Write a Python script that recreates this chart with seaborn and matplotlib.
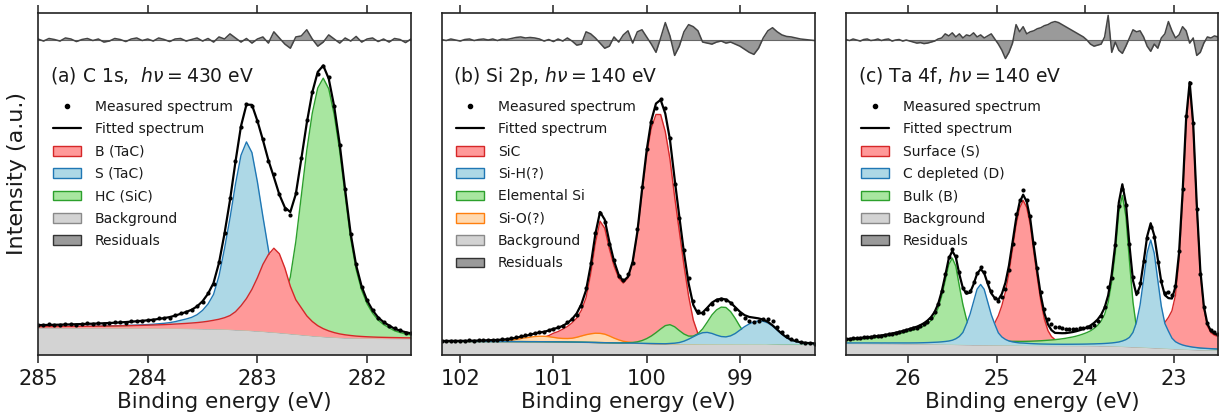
import numpy as np
import matplotlib
matplotlib.use("Agg")
import matplotlib.pyplot as plt
import seaborn as sns
from matplotlib.lines import Line2D
from matplotlib.patches import Patch

# ---------------------------------------------------------------- data
# (a) C 1s, sampled every 0.05 eV from 285.00 down to 281.60 eV (69 points)
E_C1S = np.linspace(285.0, 281.6, 69)
BG_C1S = [8.0, 8.0, 7.99, 7.99, 7.98, 7.98, 7.97, 7.97, 7.96, 7.96,
          7.95, 7.95, 7.94, 7.94, 7.93, 7.93, 7.92, 7.92, 7.91, 7.9,
          7.9, 7.89, 7.88, 7.87, 7.86, 7.85, 7.84, 7.82, 7.8, 7.78,
          7.75, 7.72, 7.7, 7.66, 7.6, 7.53, 7.45, 7.38, 7.3, 7.2,
          7.1, 6.98, 6.85, 6.72, 6.6, 6.45, 6.3, 6.15, 6.0, 5.85,
          5.7, 5.57, 5.45, 5.35, 5.25, 5.17, 5.1, 5.05, 5.0, 4.97,
          4.95, 4.93, 4.91, 4.9, 4.89, 4.88, 4.87, 4.86, 4.85]
B_TAC = [0.3, 0.3, 0.32, 0.33, 0.35, 0.36, 0.38, 0.4, 0.42, 0.44,
         0.46, 0.48, 0.5, 0.53, 0.56, 0.6, 0.64, 0.68, 0.72, 0.77,
         0.82, 0.88, 0.95, 1.02, 1.1, 1.2, 1.3, 1.42, 1.55, 1.7,
         1.9, 2.15, 2.45, 2.8, 3.3, 4.0, 5.2, 7.0, 9.2, 12.0,
         15.5, 19.5, 22.5, 24.5, 23.0, 19.0, 13.8, 10.0, 7.8, 5.6,
         4.1, 3.0, 2.25, 1.7, 1.3, 1.0, 0.8, 0.65, 0.53, 0.45,
         0.38, 0.33, 0.29, 0.26, 0.23, 0.21, 0.19, 0.17, 0.16]
S_TAC = [0.25, 0.27, 0.28, 0.3, 0.32, 0.34, 0.36, 0.38, 0.41, 0.44,
         0.47, 0.5, 0.54, 0.58, 0.62, 0.67, 0.72, 0.78, 0.85, 0.92,
         1.0, 1.1, 1.25, 1.4, 1.6, 1.9, 2.3, 2.7, 3.2, 4.0,
         5.3, 7.2, 10.0, 15.5, 23.5, 32.5, 42.5, 51.0, 55.0, 52.0,
         43.5, 33.5, 24.0, 16.0, 10.5, 7.2, 5.2, 3.9, 3.0, 2.4,
         2.0, 1.7, 1.45, 1.25, 1.1, 0.97, 0.87, 0.78, 0.7, 0.64,
         0.58, 0.53, 0.49, 0.45, 0.42, 0.39, 0.36, 0.34, 0.32]
HC_SIC = [0.2, 0.2, 0.2, 0.21, 0.22, 0.23, 0.24, 0.25, 0.26, 0.27,
          0.28, 0.29, 0.3, 0.31, 0.32, 0.34, 0.35, 0.37, 0.39, 0.41,
          0.43, 0.45, 0.47, 0.5, 0.53, 0.56, 0.6, 0.64, 0.68, 0.73,
          0.78, 0.85, 0.92, 1.0, 1.1, 1.22, 1.35, 1.5, 1.7, 1.95,
          2.35, 2.9, 3.6, 4.8, 6.8, 10.5, 16.5, 27.0, 40.5, 54.0,
          65.0, 72.5, 75.5, 72.5, 65.0, 54.5, 41.5, 29.0, 20.0, 14.0,
          10.0, 7.3, 5.3, 4.0, 3.1, 2.2, 1.7, 1.3, 1.0]
RES_C1S = [0.1, -0.1, 0.15, 0.05, -0.1, 0.2, 0.1, -0.15, 0.05, 0.15,
           -0.05, 0.1, -0.2, -0.1, 0.15, 0.05, -0.15, 0.1, 0.2, -0.05,
           0.1, -0.1, 0.2, 0.05, -0.15, 0.1, 0.15, -0.1, 0.05, 0.2,
           -0.1, 0.15, -0.2, 0.3, 0.1, 0.6, 0.2, -0.2, 0.15, -0.3,
           0.1, 0.3, -0.3, 0.8, 0.2, -0.4, -0.8, 0.3, 0.4, 1.0,
           0.1, -0.6, -0.2, 0.5, 0.1, -0.3, 0.2, -0.1, 0.35, -0.2,
           0.1, 0.2, -0.15, 0.1, -0.2, 0.15, 0.05, -0.25, 0.1]

# (b) Si 2p, every 0.05 eV from 102.20 down to 98.20 eV (81 points)
E_SI2P = np.linspace(102.2, 98.2, 81)
BG_SI2P = [3.95, 3.95, 3.95, 3.95, 3.95, 3.95, 3.95, 3.95, 3.95, 3.95,
           3.95, 3.95, 3.94, 3.94, 3.93, 3.93, 3.92, 3.92, 3.91, 3.9,
           3.9, 3.89, 3.88, 3.87, 3.86, 3.85, 3.84, 3.82, 3.8, 3.78,
           3.76, 3.73, 3.7, 3.67, 3.63, 3.6, 3.57, 3.55, 3.53, 3.51,
           3.49, 3.47, 3.45, 3.42, 3.39, 3.36, 3.33, 3.31, 3.29, 3.27,
           3.26, 3.25, 3.24, 3.23, 3.23, 3.22, 3.22, 3.21, 3.21, 3.2,
           3.2, 3.2, 3.2, 3.19, 3.19, 3.19, 3.18, 3.18, 3.18, 3.17,
           3.17, 3.17, 3.17, 3.16, 3.16, 3.16, 3.16, 3.15, 3.15, 3.15, 3.15]
SIC = [0.15, 0.16, 0.17, 0.18, 0.19, 0.2, 0.21, 0.22, 0.24, 0.26,
       0.28, 0.3, 0.32, 0.35, 0.38, 0.42, 0.47, 0.53, 0.6, 0.7,
       0.9, 1.1, 1.3, 1.8, 2.5, 3.0, 3.7, 4.5, 5.6, 7.0,
       9.3, 13.0, 20.0, 29.0, 35.5, 33.5, 27.5, 22.5, 19.0, 17.5,
       19.0, 23.5, 32.0, 44.0, 55.0, 63.0, 67.0, 67.0, 62.0, 54.0,
       43.0, 33.0, 23.0, 14.0, 7.0, 3.0, 1.5, 0.8, 0.5, 0.35,
       0.28, 0.24, 0.21, 0.19, 0.17, 0.16, 0.15, 0.14, 0.13, 0.12,
       0.11, 0.1, 0.1, 0.09, 0.09, 0.08, 0.08, 0.07, 0.07, 0.07, 0.06]
SIH = [0, 0, 0, 0, 0, 0, 0, 0, 0, 0,
       0, 0, 0, 0, 0, 0, 0, 0, 0, 0,
       0, 0, 0, 0, 0, 0, 0, 0, 0, 0,
       0, 0, 0, 0, 0, 0, 0, 0, 0, 0,
       0, 0, 0, 0, 0, 0, 0, 0, 0, 0.1,
       0.2, 0.4, 0.8, 1.4, 2.1, 2.8, 3.3, 3.4, 3.1, 2.6,
       2.2, 2.1, 2.4, 3.1, 4.1, 5.1, 5.9, 6.5, 6.8, 6.7,
       6.2, 5.3, 4.1, 2.9, 1.9, 1.2, 0.8, 0.5, 0.35, 0.25, 0.2]
SI_EL = [0, 0, 0, 0, 0, 0, 0, 0, 0, 0,
         0, 0, 0, 0, 0, 0, 0, 0, 0, 0,
         0, 0, 0, 0, 0, 0, 0, 0, 0, 0,
         0, 0, 0, 0, 0, 0, 0, 0, 0, 0.05,
         0.1, 0.2, 0.4, 0.8, 1.4, 2.2, 3.2, 4.3, 5.3, 5.6,
         5.0, 3.9, 2.9, 2.3, 2.3, 3.0, 4.4, 6.4, 8.5, 10.0,
         10.8, 10.7, 9.5, 7.5, 5.2, 3.2, 1.9, 1.1, 0.6, 0.35,
         0.2, 0.12, 0.08, 0.05, 0.03, 0.02, 0.01, 0.0, 0.0, 0.0, 0.0]
SIO = [0, 0, 0, 0, 0, 0, 0, 0.02, 0.03, 0.05,
       0.07, 0.1, 0.14, 0.2, 0.3, 0.45, 0.65, 0.9, 1.1, 1.3,
       1.5, 1.6, 1.6, 1.5, 1.3, 1.1, 1.0, 1.0, 1.1, 1.4,
       1.8, 2.2, 2.5, 2.7, 2.7, 2.5, 2.0, 1.4, 0.9, 0.5,
       0.3, 0.15, 0.07, 0.03, 0.01, 0, 0, 0, 0, 0,
       0, 0, 0, 0, 0, 0, 0, 0, 0, 0,
       0, 0, 0, 0, 0, 0, 0, 0, 0, 0,
       0, 0, 0, 0, 0, 0, 0, 0, 0, 0, 0]
RES_SI2P = [0.05, -0.05, 0.1, 0.0, -0.1, 0.05, 0.1, -0.05, 0.05, 0.1,
            0.0, 0.1, -0.05, 0.1, 0.05, 0.15, 0.25, 0.3, 0.2, 0.25,
            0.2, 0.1, -0.1, 0.05, -0.15, 0.1, -0.1, 0.2, -0.1, -0.5,
            -0.4, 0.8, 0.6, 0.2, -0.3, -0.8, -0.6, 0.3, -0.2, 0.5,
            0.9, -0.3, 0.8, 1.0, 0.3, -0.4, -1.2, 0.2, 1.7, 0.4,
            -1.5, -0.6, 0.8, 1.5, 1.3, 0.9, -0.2, -0.3, -0.4, -0.2,
            -0.1, -0.3, -0.2, -0.4, -0.6, -0.9, -1.2, -1.4, -0.8, 0.2,
            0.9, 1.2, 0.8, 0.5, 0.35, 0.3, 0.2, 0.1, 0.05, 0.0, -0.05]

# (c) Ta 4f, every 0.04 eV from 26.70 down to 22.50 eV (106 points)
E_TA4F = np.linspace(26.7, 22.5, 106)
BG_TA4F = [3.45, 3.45, 3.44, 3.44, 3.43, 3.43, 3.42, 3.42, 3.41, 3.41,
           3.4, 3.4, 3.39, 3.39, 3.38, 3.37, 3.36, 3.35, 3.34, 3.33,
           3.32, 3.31, 3.3, 3.29, 3.28, 3.27, 3.25, 3.23, 3.21, 3.19,
           3.17, 3.15, 3.13, 3.11, 3.09, 3.08, 3.06, 3.05, 3.03, 3.02,
           3.01, 3.0, 2.99, 2.98, 2.97, 2.96, 2.95, 2.94, 2.93, 2.91,
           2.89, 2.88, 2.87, 2.86, 2.86, 2.85, 2.85, 2.85, 2.84, 2.84,
           2.84, 2.83, 2.83, 2.83, 2.82, 2.82, 2.82, 2.81, 2.81, 2.8,
           2.79, 2.78, 2.76, 2.74, 2.72, 2.69, 2.66, 2.62, 2.58, 2.54,
           2.5, 2.46, 2.42, 2.38, 2.33, 2.28, 2.23, 2.18, 2.13, 2.08,
           2.03, 1.98, 1.93, 1.88, 1.83, 1.78, 1.73, 1.68, 1.64, 1.6,
           1.57, 1.55, 1.53, 1.51, 1.5, 1.49]
SURF = [0.24, 0.25, 0.25, 0.26, 0.27, 0.28, 0.29, 0.3, 0.31, 0.32,
        0.33, 0.34, 0.35, 0.36, 0.37, 0.39, 0.41, 0.43, 0.45, 0.47,
        0.49, 0.52, 0.55, 0.58, 0.62, 0.66, 0.71, 0.76, 0.82, 0.88,
        0.95, 1.05, 1.15, 1.3, 1.45, 1.65, 1.9, 2.2, 2.6, 3.1,
        3.9, 4.9, 6.4, 8.5, 11.5, 15.5, 21.0, 28.0, 35.0, 40.0,
        42.3, 40.3, 35.3, 27.3, 19.8, 12.8, 7.6, 4.3, 2.55, 1.65,
        1.5, 1.32, 1.2, 1.13, 1.11, 1.09, 1.08, 1.1, 1.12, 1.15,
        1.18, 1.22, 1.27, 1.33, 1.39, 1.46, 1.55, 1.64, 1.73, 1.87,
        2.01, 2.2, 2.4, 2.6, 2.9, 3.2, 3.6, 4.1, 5.2, 6.2,
        7.5, 9.0, 11.0, 15.6, 26.0, 44.0, 66.0, 77.0, 65.0, 41.7,
        22.6, 12.1, 7.0, 5.0, 4.3, 3.9]
DEPL = [0.08, 0.08, 0.09, 0.09, 0.1, 0.1, 0.11, 0.11, 0.12, 0.12,
        0.12, 0.13, 0.13, 0.14, 0.15, 0.16, 0.17, 0.18, 0.19, 0.21,
        0.23, 0.26, 0.3, 0.34, 0.39, 0.45, 0.52, 0.62, 0.74, 0.9,
        1.15, 1.6, 2.3, 3.5, 6.0, 8.8, 12.5, 16.2, 17.6, 16.2,
        12.5, 8.8, 6.0, 3.5, 2.3, 1.6, 1.15, 0.9, 0.74, 0.62,
        0.6, 0.54, 0.48, 0.44, 0.4, 0.37, 0.35, 0.33, 0.32, 0.31,
        0.31, 0.31, 0.31, 0.32, 0.33, 0.34, 0.35, 0.37, 0.39, 0.43,
        0.46, 0.51, 0.56, 0.63, 0.72, 0.84, 0.99, 1.19, 1.51, 1.95,
        2.65, 4.15, 7.2, 12.2, 19.8, 27.6, 31.4, 27.6, 19.8, 12.2,
        7.2, 5.0, 3.0, 2.0, 1.5, 1.15, 0.93, 0.78, 0.65, 0.56,
        0.49, 0.43, 0.38, 0.34, 0.3, 0.27]
BULK = [0.88, 0.95, 1.03, 1.11, 1.19, 1.28, 1.37, 1.48, 1.59, 1.72,
        1.87, 2.03, 2.19, 2.4, 2.61, 2.82, 3.08, 3.34, 3.65, 3.95,
        4.24, 4.65, 5.15, 5.86, 6.77, 8.18, 10.4, 13.9, 18.4, 23.2,
        25.15, 22.8, 17.0, 11.6, 7.4, 4.7, 3.2, 2.3, 1.9, 1.65,
        1.46, 1.35, 1.24, 1.17, 1.12, 1.09, 1.07, 1.06, 1.06, 1.07,
        1.09, 1.12, 1.16, 1.21, 1.26, 1.32, 1.39, 1.47, 1.56, 1.66,
        1.77, 1.91, 2.06, 2.26, 2.45, 2.7, 3.0, 3.35, 3.75, 4.25,
        4.95, 5.85, 7.15, 9.15, 12.6, 18.6, 27.1, 39.1, 44.1, 38.0,
        25.0, 13.0, 5.5, 3.0, 2.1, 1.6, 1.3, 1.1, 0.95, 0.85,
        0.77, 0.66, 0.58, 0.51, 0.45, 0.4, 0.36, 0.33, 0.3, 0.27,
        0.25, 0.23, 0.21, 0.2, 0.18, 0.17]
RES_TA4F = [0.05, -0.05, 0.1, 0.0, -0.1, 0.05, 0.1, -0.05, 0.0, 0.1,
            -0.05, 0.05, 0.1, -0.1, 0.0, 0.05, -0.1, 0.0, -0.1, -0.2,
            -0.3, -0.25, -0.35, -0.3, -0.2, -0.1, 0.1, 0.2, 0.6, 0.4,
            0.7, 0.3, 0.6, 0.2, 0.5, 0.4, 0.7, 0.3, 0.5, 0.2,
            0.4, 0.6, 0.1, -0.4, -1.0, -1.8, -1.2, -0.3, 1.5, 0.8,
            1.3, 0.6, 0.8, 0.9, 1.1, 1.2, 1.4, 1.5, 1.7, 1.8,
            1.7, 1.5, 1.3, 1.1, 0.9, 0.7, 0.5, 0.3, 0.0, -0.4,
            -0.6, -0.5, -0.4, 0.3, 2.4, -1.2, -0.2, -1.0, -1.3, -0.6,
            0.2, 1.0, 0.8, 0.9, 0.3, -0.6, -1.1, -0.4, -0.8, 0.2,
            0.6, 1.8, 0.9, 0.2, 0.5, 1.3, 0.9, -0.3, 0.2, -1.5,
            -1.2, -0.3, 0.3, 0.2, 0.4, 0.3]

TITLES = ["(a) C 1s,  $h\\nu = 430$ eV",
          "(b) Si 2p, $h\\nu = 140$ eV",
          "(c) Ta 4f, $h\\nu = 140$ eV"]
X_TICKS = [[285, 284, 283, 282], [102, 101, 100, 99], [26, 25, 24, 23]]
X_LIMS = [(285.0, 281.6), (102.2, 98.2), (26.7, 22.5)]

# ---------------------------------------------------------------- style
RED = ("#ff9999", "#d62728")
BLUE = ("#add8e6", "#1f77b4")
GREEN = ("#a8e6a0", "#2ca02c")
ORANGE = ("#ffd9b0", "#ff7f0e")

panels = [
    dict(E=E_C1S, bg=BG_C1S, res=RES_C1S,
         comps=[("B (TaC)", B_TAC, RED, 2.1),
                ("S (TaC)", S_TAC, BLUE, 1.5),
                ("HC (SiC)", HC_SIC, GREEN, 1.8)]),
    dict(E=E_SI2P, bg=BG_SI2P, res=RES_SI2P,
         comps=[("SiC", SIC, RED, 1.5),
                ("Si-H(?)", SIH, BLUE, 2.1),
                ("Elemental Si", SI_EL, GREEN, 1.9),
                ("Si-O(?)", SIO, ORANGE, 1.7)]),
    dict(E=E_TA4F, bg=BG_TA4F, res=RES_TA4F,
         comps=[("Surface (S)", SURF, RED, 1.5),
                ("C depleted (D)", DEPL, BLUE, 2.1),
                ("Bulk (B)", BULK, GREEN, 1.8)]),
]

for p in panels:
    n = len(p["E"])
    for name, arr in [("bg", p["bg"]), ("res", p["res"])] + [(c[0], c[1]) for c in p["comps"]]:
        if len(arr) != n:
            raise ValueError(f"length mismatch {name}: {len(arr)} vs {n}")

sns.set_style("white")
plt.rcParams["font.family"] = ["DejaVu Sans"]
plt.rcParams["mathtext.fontset"] = "dejavusans"
plt.rcParams["text.color"] = "#1a1a1a"
plt.rcParams["axes.labelcolor"] = "#1a1a1a"
plt.rcParams["xtick.color"] = "#1a1a1a"

W, H = 1219, 417
fig = plt.figure(figsize=(W / 100, H / 100), dpi=100)
BOX = [(38, 411), (441.5, 814.5), (846, 1218)]
TOP, BOT = 13, 355
RES_BASE = 92.1
RES_MAG = 3.0

for i, p in enumerate(panels):
    l, r = BOX[i]
    ax = fig.add_axes([l / W, (H - BOT) / H, (r - l) / W, (BOT - TOP) / H])
    E = p["E"]
    bg = np.array(p["bg"], dtype=float)
    total = bg.copy()
    for name, h, (fc, ec), z in p["comps"]:
        total = total + np.array(h, dtype=float)
    fit = total
    meas = fit + np.array(p["res"], dtype=float)

    # background
    ax.fill_between(E, 0, bg, color="#d3d3d3", lw=0, zorder=1.0)
    ax.plot(E, bg, color="#8a8a8a", lw=1.2, zorder=1.05)
    # components
    for name, h, (fc, ec), z in p["comps"]:
        top = bg + np.array(h, dtype=float)
        ax.fill_between(E, bg, top, color=fc, lw=0, zorder=z)
        ax.plot(E, top, color=ec, lw=1.0, zorder=z + 0.01)
    # residuals strip
    rtop = RES_BASE + RES_MAG * np.array(p["res"], dtype=float)
    ax.fill_between(E, RES_BASE, rtop, color="#9a9a9a", lw=0, zorder=2.2)
    ax.plot(E, np.full_like(E, RES_BASE), color="#666666", lw=0.8, zorder=2.21)
    ax.plot(E, rtop, color="#444444", lw=1.1, zorder=2.22)
    # fit and measured
    sns.lineplot(x=E, y=fit, ax=ax, color="black", lw=1.6, sort=False,
                 legend=False, zorder=3)
    sns.scatterplot(x=E, y=meas, ax=ax, color="black", s=9, linewidth=0,
                    legend=False, zorder=4)

    ax.set_xlim(*X_LIMS[i])
    ax.set_ylim(0, 100)
    ax.set_yticks([])
    ax.set_xticks(X_TICKS[i])
    ax.set_xticklabels([str(t) for t in X_TICKS[i]])
    ax.tick_params(axis="x", which="both", direction="out", top=True, bottom=True,
                   labeltop=False, length=6, width=1.1, labelsize=15, pad=4,
                   color="#222222")
    for s in ax.spines.values():
        s.set_linewidth(1.2)
        s.set_color("#222222")
        s.set_zorder(5)
    ax.set_xlabel("Binding energy (eV)", fontsize=15.5, labelpad=2)
    if i == 0:
        ax.set_ylabel("Intensity (a.u.)", fontsize=16)
        ax.yaxis.set_label_coords(-0.03, 0.53)
    ax.text(0.032, 0.799, TITLES[i], transform=ax.transAxes, fontsize=13.5,
            va="baseline", ha="left")

    handles = [Line2D([], [], ls="", marker="o", ms=3, color="black"),
               Line2D([], [], ls="-", lw=1.6, color="black")]
    labels = ["Measured spectrum", "Fitted spectrum"]
    for name, h, (fc, ec), z in p["comps"]:
        handles.append(Patch(facecolor=fc, edgecolor=ec, lw=1.0))
        labels.append(name)
    handles.append(Patch(facecolor="#d3d3d3", edgecolor="#8a8a8a", lw=1.0))
    labels.append("Background")
    handles.append(Patch(facecolor="#9a9a9a", edgecolor="#333333", lw=1.0))
    labels.append("Residuals")
    ax.legend(handles, labels, loc="upper left", bbox_to_anchor=(0.025, 0.762),
              borderaxespad=0, frameon=False, fontsize=10, labelspacing=0.6,
              handlelength=2.0, handletextpad=1.0)

fig.savefig("out.png", dpi=100)
